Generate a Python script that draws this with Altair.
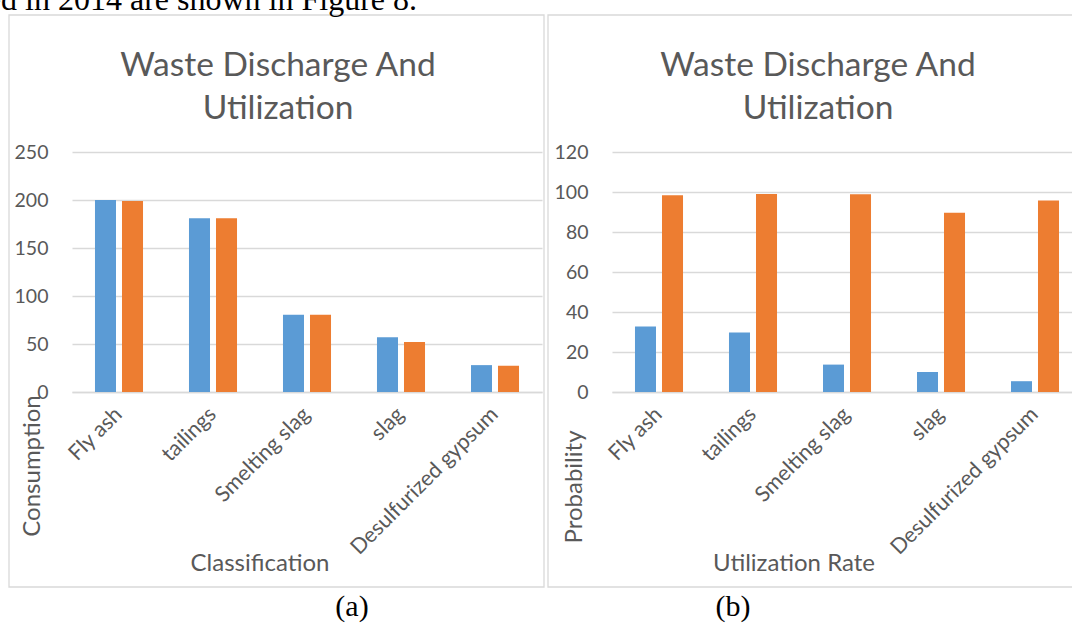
import altair as alt
import pandas as pd

# ---------------- data ----------------
categories = ["Fly ash", "tailings", "Smelting slag", "slag", "Desulfurized gypsum"]
series = ["Series1", "Series2"]
consumption_s1 = [200, 181, 80.5, 57, 28]
consumption_s2 = [199, 181, 80.5, 52, 27.3]
probability_s1 = [32.7, 29.8, 13.7, 10, 5.4]
probability_s2 = [98.4, 99, 98.9, 89.6, 95.8]
ticks_a = [0, 50, 100, 150, 200, 250]
ticks_b = [0, 20, 40, 60, 80, 100, 120]
chart_title = ["Waste Discharge And", "Utilization"]
axis_titles_a = ["Classification", "Consumption"]
axis_titles_b = ["Utilization Rate", "Probability"]
captions = ["(a)", "(b)"]
body_text = "ed in 2014 are shown in Figure 8."

colors = ["#5B9BD5", "#ED7D31"]
GRAY = "#595959"
GRID = "#D9D9D9"
FONT = "Lato"

W, H = 1072, 625
Y0, YTOP = 392, 152


def long_df(v1, v2):
    rows = []
    for c, a, b in zip(categories, v1, v2):
        rows.append({"cat": c, "series": series[0], "value": a})
        rows.append({"cat": c, "series": series[1], "value": b})
    return pd.DataFrame(rows)


def panel(df, ticks, x0, x1):
    x = alt.X(
        "cat:N",
        sort=categories,
        scale=alt.Scale(domain=categories, range=[x0, x1], paddingInner=0.489, paddingOuter=0.2445),
        axis=alt.Axis(
            orient="bottom", offset=-(H - Y0), title=None,
            domain=True, domainColor=GRID, domainWidth=1.5,
            ticks=False, grid=False,
            labelAngle=-45, labelAlign="right", labelBaseline="middle",
            labelPadding=19, labelFontSize=21.5, labelColor=GRAY, labelFont=FONT,
            labelLimit=400, labelOverlap=False,
        ),
    )
    y = alt.Y(
        "value:Q",
        scale=alt.Scale(domain=[ticks[0], ticks[-1]], range=[Y0, YTOP], nice=False, zero=True),
        axis=alt.Axis(
            orient="left", offset=-x0, title=None, values=ticks,
            domain=False, ticks=False, grid=True, gridColor=GRID, gridWidth=1.3,
            labelPadding=24, labelFontSize=19.5, labelColor=GRAY, labelFont=FONT,
        ),
    )
    return alt.Chart(df).mark_bar().encode(
        x=x,
        xOffset=alt.XOffset("series:N", sort=series,
                            scale=alt.Scale(domain=series, paddingInner=0.222, paddingOuter=0)),
        y=y,
        color=alt.Color("series:N", scale=alt.Scale(domain=series, range=colors), legend=None),
    )


bars_a = panel(long_df(consumption_s1, consumption_s2), ticks_a, 72, 542)
bars_b = panel(long_df(probability_s1, probability_s2), ticks_b, 612, 1082)

one = pd.DataFrame({"k": [0]})


def txt(text, x, y, size, color=GRAY, font=FONT, angle=0, align="center", baseline="middle", weight=400):
    kw = dict(font=font, fontSize=size, color=color, align=align, baseline=baseline, fontWeight=weight)
    if angle:
        kw["angle"] = angle
    return alt.Chart(one).mark_text(**kw).encode(
        x=alt.value(x), y=alt.value(y), text=alt.value(text)
    )


def frame(x0, x1, y0, y1):
    return alt.Chart(one).mark_rect(fillOpacity=0, stroke=GRID, strokeWidth=1.3).encode(
        x=alt.value(x0), x2=alt.value(x1), y=alt.value(y0), y2=alt.value(y1)
    )


deco = [
    frame(9, 544, 15, 587),
    frame(548, 1090, 15, 587),
    txt(chart_title[0], 278, 76, 33.5, baseline="alphabetic"),
    txt(chart_title[1], 278, 119, 33.5, baseline="alphabetic"),
    txt(chart_title[0], 818, 76, 33.5, baseline="alphabetic"),
    txt(chart_title[1], 818, 119, 33.5, baseline="alphabetic"),
    txt(axis_titles_a[0], 260, 564, 24),
    txt(axis_titles_a[1], 33, 466, 24, angle=270),
    txt(axis_titles_b[0], 794, 564, 24),
    txt(axis_titles_b[1], 575, 487, 24, angle=270),
    txt(captions[0], 352, 616, 30, color="black", font="Liberation Serif", baseline="alphabetic"),
    txt(captions[1], 733, 616, 30, color="black", font="Liberation Serif", baseline="alphabetic"),
    txt(body_text, 417, 10, 32, color="black", font="Liberation Serif", align="right", baseline="alphabetic"),
]

chart = alt.layer(
    *deco, bars_a, bars_b
).resolve_scale(
    x="independent", y="independent", xOffset="independent"
).resolve_axis(
    x="independent", y="independent"
).properties(
    width=W, height=H, padding=0, autosize=alt.AutoSizeParams(type="none"),
    background="white",
).configure_view(stroke=None)

chart.save("out.html", embed_options={"renderer": "svg", "actions": False})
